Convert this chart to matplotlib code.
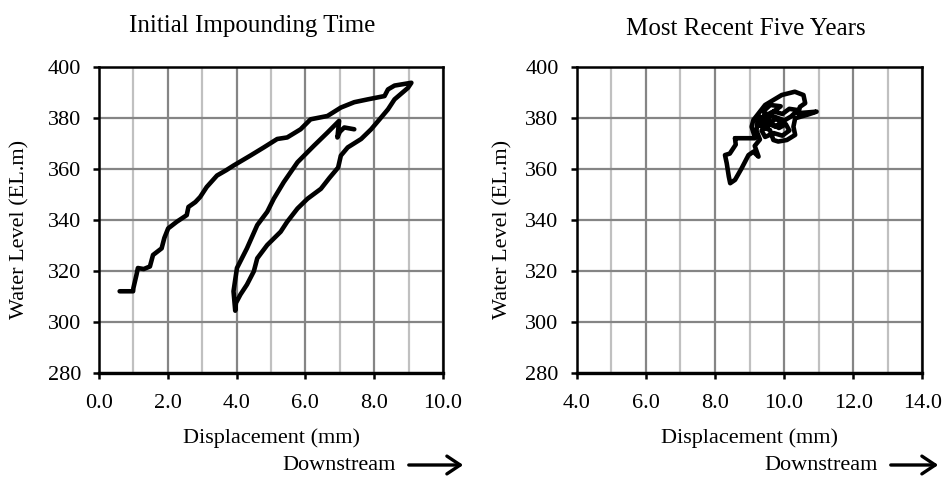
import numpy as np
import matplotlib.pyplot as plt
from matplotlib.patches import FancyArrowPatch
from matplotlib.ticker import MultipleLocator, FormatStrFormatter

plt.rcParams['font.family'] = ['Liberation Serif', 'DejaVu Serif']

# initial impounding: one continuous record (upper branch, back down, inner branch, hook)
init_disp = [0.60, 0.99, 1.00, 1.09, 1.13, 1.30, 1.48, 1.57, 1.82, 1.90, 2.01, 2.26, 2.55, 2.60,
             2.80, 2.94, 3.13, 3.43, 3.70, 3.91, 4.40, 4.79, 5.18, 5.47, 5.86, 6.15, 6.64,
             7.03, 7.42, 7.81, 8.30, 8.40, 8.59, 9.08,
             8.98, 8.59, 8.40, 8.20, 7.91, 7.62, 7.23, 7.03, 6.95, 6.70, 6.45, 6.06, 5.77,
             5.47, 5.28, 4.89, 4.60, 4.50, 4.30, 4.11, 3.98, 3.96,
             3.91, 4.01, 4.30, 4.60, 4.89, 5.08, 5.37, 5.77, 6.25, 6.64, 6.98,
             6.93, 7.00, 7.13, 7.42]
init_level = [312.1, 312.1, 313.4, 318.6, 321.2, 320.8, 321.8, 326.3, 328.9, 333.0, 336.7, 339.3, 341.9, 345.1,
              347.0, 349.0, 352.9, 357.4, 359.5, 361.3, 365.2, 368.4, 371.7, 372.3, 375.5, 379.4, 380.7,
              384.0, 386.1, 387.2, 388.5, 391.1, 392.6, 393.7,
              391.7, 387.2, 383.3, 380.1, 375.5, 371.7, 368.4, 365.2, 360.5, 356.5, 352.2, 348.3, 344.5,
              339.3, 335.4, 330.2, 325.0, 319.9, 314.7, 310.8, 307.5, 304.5,
              312.1, 321.2, 328.9, 338.0, 343.2, 348.3, 354.8, 362.6, 369.1, 374.2, 378.8,
              372.3, 374.5, 376.2, 375.5]

# most recent five years: tangled record around 9-11 mm
recent_disp = [8.58, 9.16, 9.06, 9.11, 9.45, 9.93, 10.31, 10.56, 10.61, 10.46, 10.41, 10.94, 10.70,
               10.32, 10.27, 10.32, 10.08, 9.83, 9.69, 9.59, 9.25, 9.40, 9.70, 9.95, 10.15, 10.40,
               10.20, 9.95, 9.75, 9.60, 9.85, 10.05, 10.15, 9.95, 9.70, 9.45, 9.35, 9.55, 9.30,
               9.50, 9.80, 10.00, 9.75, 9.50, 9.65, 9.90, 9.60, 9.40, 9.55, 9.25,
               9.20, 9.30, 9.15, 9.26, 9.11, 8.97, 8.77, 8.58, 8.44, 8.40, 8.34, 8.29, 8.43, 8.60, 8.58]
recent_level = [372.0, 372.0, 376.5, 379.1, 385.0, 388.9, 390.2, 388.9, 385.7, 384.3, 381.8, 382.4, 381.3,
                379.8, 376.5, 373.3, 371.3, 370.7, 371.3, 375.2, 377.2, 380.5, 382.5, 381.5, 383.5, 383.0,
                380.5, 378.5, 379.5, 378.0, 376.0, 377.5, 375.0, 373.0, 374.0, 372.5, 375.0, 377.0, 379.0,
                381.5, 380.0, 379.0, 376.5, 378.0, 382.0, 384.5, 385.0, 382.5, 379.5, 380.5,
                375.0, 371.5, 369.0, 364.8, 366.7, 365.4, 360.2, 355.7, 354.4, 357.0, 362.2, 365.4, 366.0, 369.5, 372.0]

fig = plt.figure(figsize=(9.43, 4.8), dpi=100)
ax1 = fig.add_axes([0.105, 0.2223, 0.3648, 0.6388])
ax2 = fig.add_axes([0.6116, 0.2223, 0.3665, 0.6388])


def style(ax, x0, x1):
    ax.set_xlim(x0, x1)
    ax.set_ylim(280, 400)
    ax.xaxis.set_major_locator(MultipleLocator(2))
    ax.xaxis.set_minor_locator(MultipleLocator(1))
    ax.yaxis.set_major_locator(MultipleLocator(20))
    ax.xaxis.set_major_formatter(FormatStrFormatter('%.1f'))
    ax.grid(which='major', axis='both', color='#858585', lw=1.6, zorder=0)
    ax.grid(which='minor', axis='x', color='#c0c0c0', lw=1.6, zorder=0)
    ax.set_axisbelow(True)
    ax.tick_params(which='minor', length=0)
    ax.tick_params(which='major', direction='out', length=4, width=1.8, labelsize=16, color='black')
    ax.tick_params(axis='x', pad=11)
    ax.tick_params(axis='y', pad=9)
    for s in ax.spines.values():
        s.set_linewidth(1.8)
        s.set_color('black')
    ax.spines['bottom'].set_linewidth(2.4)
    ax.set_xlabel('Displacement (mm)', fontsize=16, labelpad=11)


style(ax1, 0, 10)
style(ax2, 4, 14)

ax1.plot(init_disp, init_level, color='black', lw=3.3, solid_joinstyle='round', solid_capstyle='round', zorder=3)
ax2.plot(recent_disp, recent_level, color='black', lw=3.3, solid_joinstyle='round', solid_capstyle='round', zorder=3)

fig.text(20 / 943, 1 - 229 / 480, 'Water Level (EL.m)', rotation=90, fontsize=16, ha='center', va='center')
fig.text(503 / 943, 1 - 229 / 480, 'Water Level (EL.m)', rotation=90, fontsize=16, ha='center', va='center')

fig.text(252 / 943, 1 - 31.7 / 480, 'Initial Impounding Time', fontsize=18, ha='center', va='baseline')
fig.text(746 / 943, 1 - 35 / 480, 'Most Recent Five Years', fontsize=18, ha='center', va='baseline')

for tx, a0, a1 in [(282, 406, 466), (764, 888, 941)]:
    fig.text(tx / 943, 1 - 470 / 480, 'Downstream', fontsize=16, ha='left', va='baseline')
    fig.patches.append(FancyArrowPatch(
        (a0 / 943, 1 - 465 / 480), (a1 / 943, 1 - 465 / 480), transform=fig.transFigure,
        arrowstyle='->,head_length=6,head_width=4', lw=2.4, color='black', mutation_scale=1.6))

fig.savefig('out.png', dpi=100)
